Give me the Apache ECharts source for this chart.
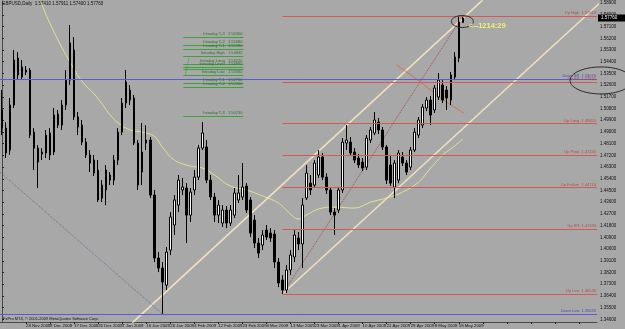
<!DOCTYPE html>
<html><head><meta charset="utf-8">
<script src="https://cdn.jsdelivr.net/npm/echarts@6/dist/echarts.min.js"></script>
<style>html,body{margin:0;padding:0;background:#a8a8a8}#c{width:625px;height:329px}</style>
</head><body><div id="c"></div>
<script>
const dates = ['19 Nov 2008','20 Nov 2008','21 Nov 2008','24 Nov 2008','25 Nov 2008','26 Nov 2008',
'28 Nov 2008','1 Dec 2008','2 Dec 2008','3 Dec 2008','4 Dec 2008','5 Dec 2008',
'9 Dec 2008','10 Dec 2008','11 Dec 2008','12 Dec 2008','15 Dec 2008','16 Dec 2008',
'17 Dec 2008','18 Dec 2008','19 Dec 2008','22 Dec 2008','23 Dec 2008','24 Dec 2008',
'26 Dec 2008','29 Dec 2008','30 Dec 2008','31 Dec 2008','2 Jan 2009','5 Jan 2009',
'7 Jan 2009','8 Jan 2009','9 Jan 2009','12 Jan 2009','13 Jan 2009','14 Jan 2009',
'16 Jan 2009','19 Jan 2009','20 Jan 2009','21 Jan 2009','22 Jan 2009','23 Jan 2009',
'26 Jan 2009','27 Jan 2009','28 Jan 2009','29 Jan 2009','30 Jan 2009','2 Feb 2009',
'4 Feb 2009','5 Feb 2009','6 Feb 2009','9 Feb 2009','10 Feb 2009','11 Feb 2009',
'12 Feb 2009','13 Feb 2009','16 Feb 2009','17 Feb 2009','18 Feb 2009','19 Feb 2009',
'23 Feb 2009','24 Feb 2009','25 Feb 2009','26 Feb 2009','27 Feb 2009','2 Mar 2009',
'4 Mar 2009','5 Mar 2009','6 Mar 2009','9 Mar 2009','10 Mar 2009','11 Mar 2009',
'13 Mar 2009','16 Mar 2009','17 Mar 2009','18 Mar 2009','19 Mar 2009','20 Mar 2009',
'23 Mar 2009','24 Mar 2009','25 Mar 2009','26 Mar 2009','27 Mar 2009','30 Mar 2009',
'1 Apr 2009','2 Apr 2009','3 Apr 2009','6 Apr 2009','7 Apr 2009','8 Apr 2009',
'10 Apr 2009','13 Apr 2009','14 Apr 2009','15 Apr 2009','16 Apr 2009','17 Apr 2009',
'21 Apr 2009','22 Apr 2009','23 Apr 2009','24 Apr 2009','27 Apr 2009','28 Apr 2009',
'29 Apr 2009','30 Apr 2009','1 May 2009','4 May 2009','5 May 2009','6 May 2009',
'8 May 2009','11 May 2009','12 May 2009','13 May 2009','14 May 2009','15 May 2009',
'18 May 2009','19 May 2009'];

const opens = [1.5069,1.4930,1.4761,1.5107,1.5468,1.5322,1.5376,1.5376,1.4899,1.4776,
1.4746,1.4738,1.4892,1.4746,1.5038,1.4953,1.5107,1.5299,1.5530,1.5015,
1.4953,1.4822,1.4723,1.4684,1.4607,1.4392,1.4454,1.4569,1.4530,1.4684,
1.4899,1.5122,1.5222,1.5161,1.4815,1.4592,1.4838,1.4838,1.4415,1.3931,
1.3854,1.3723,1.3992,1.4185,1.4338,1.4454,1.4469,1.4261,1.4454,1.4553,
1.4776,1.4784,1.4530,1.4400,1.4261,1.4200,1.4300,1.4200,1.4261,1.4377,
1.4400,1.4484,1.4377,1.4223,1.4046,1.4031,1.4146,1.4123,1.4115,1.3900,
1.3762,1.3685,1.3839,1.3939,1.4085,1.4039,1.4392,1.4507,1.4492,1.4569,
1.4707,1.4553,1.4454,1.4284,1.4300,1.4454,1.4815,1.4822,1.4746,1.4700,
1.4669,1.4630,1.4838,1.4892,1.4976,1.4915,1.4784,1.4646,1.4477,1.4530,
1.4707,1.4661,1.4630,1.4761,1.4876,1.4953,1.5084,1.5145,1.5069,1.5168,
1.5261,1.5222,1.5145,1.5322,1.5468,1.5741];
const closes = [1.4930,1.4738,1.5107,1.5453,1.5338,1.5399,1.5361,1.4876,1.4776,1.4669,
1.4730,1.4876,1.4723,1.5030,1.4953,1.5107,1.5299,1.5584,1.5015,1.4938,
1.4822,1.4723,1.4661,1.4584,1.4377,1.4492,1.4607,1.4530,1.4684,1.4899,
1.5122,1.5284,1.5145,1.4815,1.4492,1.4746,1.4815,1.4415,1.3931,1.3854,
1.3746,1.3977,1.4246,1.4377,1.4530,1.4477,1.4261,1.4438,1.4553,1.4776,
1.4892,1.4530,1.4400,1.4261,1.4338,1.4300,1.4200,1.4300,1.4431,1.4431,
1.4477,1.4300,1.4123,1.4046,1.3969,1.4108,1.4092,1.4085,1.3900,1.3739,
1.3685,1.3839,1.3954,1.4108,1.4039,1.4338,1.4584,1.4454,1.4661,1.4707,
1.4553,1.4454,1.4284,1.4261,1.4454,1.4822,1.4838,1.4738,1.4684,1.4646,
1.4623,1.4853,1.4915,1.4992,1.4915,1.4784,1.4530,1.4507,1.4661,1.4738,
1.4661,1.4592,1.4761,1.4899,1.4992,1.5092,1.5145,1.5030,1.5238,1.5299,
1.5145,1.5161,1.5338,1.5476,1.5745,1.5776];
const lows = [1.4876,1.4700,1.4723,1.5084,1.5299,1.5299,1.5338,1.4853,1.4607,1.4469,
1.4684,1.4700,1.4684,1.4723,1.4930,1.4915,1.5069,1.5261,1.4992,1.4876,
1.4799,1.4700,1.4592,1.4561,1.4361,1.4361,1.4338,1.4492,1.4492,1.4646,
1.4876,1.5084,1.5107,1.4799,1.4454,1.4492,1.4761,1.4392,1.3900,1.3823,
1.3502,1.3685,1.3954,1.4108,1.4284,1.4415,1.4046,1.4208,1.4415,1.4530,
1.4761,1.4507,1.4377,1.4208,1.4200,1.4169,1.4161,1.4177,1.4238,1.4354,
1.4377,1.4277,1.4092,1.4008,1.3931,1.3992,1.4069,1.4054,1.3854,1.3708,
1.3655,1.3662,1.3800,1.3900,1.3992,1.3854,1.4377,1.4415,1.4469,1.4546,
1.4530,1.4423,1.4261,1.4108,1.4277,1.4431,1.4761,1.4715,1.4661,1.4623,
1.4600,1.4607,1.4815,1.4876,1.4884,1.4761,1.4500,1.4484,1.4392,1.4507,
1.4638,1.4569,1.4607,1.4746,1.4853,1.4930,1.5061,1.4953,1.5046,1.5145,
1.5122,1.5069,1.5107,1.5299,1.5437,1.5740];
const highs = [1.5222,1.4976,1.5161,1.5530,1.5514,1.5453,1.5407,1.5391,1.4930,1.4799,
1.4776,1.4915,1.4930,1.5084,1.5069,1.5145,1.5376,1.5722,1.5630,1.5053,
1.4992,1.4853,1.4761,1.4723,1.4684,1.4530,1.4646,1.4592,1.4723,1.4930,
1.5161,1.5376,1.5261,1.5184,1.4838,1.4969,1.4953,1.4861,1.4454,1.3977,
1.3900,1.4016,1.4284,1.4415,1.4569,1.4546,1.4507,1.4469,1.4607,1.4799,
1.4976,1.4838,1.4569,1.4431,1.4377,1.4338,1.4331,1.4338,1.4469,1.4569,
1.4661,1.4507,1.4400,1.4261,1.4085,1.4146,1.4185,1.4161,1.4146,1.3931,
1.3800,1.3877,1.3992,1.4146,1.4131,1.4392,1.4646,1.4569,1.4684,1.4761,
1.4738,1.4584,1.4477,1.4315,1.4477,1.4853,1.4953,1.4861,1.4776,1.4730,
1.4700,1.4876,1.4938,1.5053,1.5007,1.4938,1.4799,1.4723,1.4684,1.4761,
1.4746,1.4684,1.4784,1.4930,1.5015,1.5115,1.5168,1.5176,1.5261,1.5353,
1.5299,1.5253,1.5361,1.5514,1.5783,1.5791];

// moving average (bar index, price)
const maIndex = [9,10,11,13,15,17,19,21,23,25,27,29,32,35,38,40,43,47,50,53,57,61,65,69,72,74,76,79,83,88,92,96,100,104,107,110,112,115];
const maValues = [1.5937,1.5876,1.5799,1.5668,1.5545,1.5437,1.5330,1.5253,1.5192,1.5115,1.5030,1.4969,1.4915,1.4899,1.4868,1.4784,1.4684,1.4638,1.4623,1.4569,1.4484,1.4454,1.4408,1.4354,1.4269,1.4231,1.4261,1.4308,1.4323,1.4315,1.4361,1.4392,1.4438,1.4515,1.4623,1.4723,1.4769,1.4845];

const yTicks = [1.346,1.355,1.364,1.373,1.382,1.391,1.400,1.409,1.418,1.427,1.436,1.445,1.454,1.463,1.472,1.481,1.490,1.499,1.508,1.517,1.526,1.535,1.544,1.553,1.562,1.571,1.580,1.589];

const levelNames = ['Up High','Down SR','Up SR','Up Long','Up Pivot','Up Failure','Up SR','Up Low','Down Low'];
const levelValues = [1.57913,1.53070,1.52840,1.49653,1.47240,1.44716,1.41534,1.36546,1.35020];
const levelFrom = [70,-0.5,70,70,70,70,70,70,-0.5];
const levelSide = ['up','down','up','up','up','up','up','up','down'];

const intraNames = ['Intraday T-3','Intraday T-2','Intraday T-1','Intraday High','Intraday Long','Intraday Level','','Intraday Low','Intraday T-1','Intraday T-2','Intraday T-3'];
const intraValues = [1.56300,1.55680,1.55380,1.54840,1.54220,1.53990,1.53840,1.53380,1.52760,1.52450,1.50230];
const intraSpan = [45.25,60.25];
const intraLink = [[46.75,1.5484],[45.75,1.5338]];

const channelUpper = [[32.5,1.3432],[120,1.5915]];
const channelLower = [[70,1.36546],[150,1.5914]];
const dottedTrend = [[70,1.36546],[115,1.57913]];
const grayTrend = [[-0.5,1.4591],[40,1.3502]];
const orangeArc = [[98.5,1.5415],[101,1.5360],[104.5,1.5283],[109.5,1.5160],[115.25,1.5045]];

const lastBar = {open:1.57410, high:1.57911, low:1.57400, close:1.57760};
const timerText = '<--1214:29';
const titleText = 'GBPUSD,Daily  1.57410 1.57911 1.57400 1.57760';
const creditText = 'FxPro MT4, \u00a9 2001-2009 MetaQuotes Software Corp.';

const TOTAL = 149;
const FONT = 'Liberation Sans, Arial, sans-serif';
const categories = dates.concat(Array.from({length: TOTAL - dates.length}, (_, k) => '_' + k));
const candleData = opens.map((o, i) => [o, closes[i], lows[i], highs[i]]);

const chart = echarts.init(document.getElementById('c'), null, {renderer: 'canvas'});

const upColor = '#d45a56', downColor = '#5a5ad4';
const levelLines = levelNames.map((n, k) => [
  {coord: [levelFrom[k], levelValues[k]], name: n + '  ' + levelValues[k].toFixed(5),
   lineStyle: {color: levelSide[k] === 'up' ? upColor : downColor, width: 1, type: 'solid', opacity: 1},
   label: {color: levelSide[k] === 'up' ? '#b84a4a' : '#4a4ab0'}},
  {coord: [TOTAL - 0.5, levelValues[k]]}
]);
const intraLines = intraNames.map((n, k) => [
  {coord: [intraSpan[0], intraValues[k]], name: n ? (n + '   ' + intraValues[k].toFixed(5)) : ''},
  {coord: [intraSpan[1], intraValues[k]]}
]);

function overlay(data, color, width, type, smooth) {
  return {type: 'line', xAxisIndex: 1, yAxisIndex: 0, data: data, symbol: 'none', silent: true,
    smooth: smooth || false, clip: true, lineStyle: {color: color, width: width, type: type}, z: 3};
}

const option = {
  backgroundColor: '#a8a8a8',
  animation: false,
  grid: {left: 0, right: 28, top: 1, bottom: 7, containLabel: false, outerBoundsMode: 'none'},
  xAxis: [
    {type: 'category', data: categories, boundaryGap: true,
     axisLine: {show: true, lineStyle: {color: '#4a4a4a', width: 1}},
     axisTick: {show: true, interval: 5, alignWithLabel: true, length: 2, lineStyle: {color: '#222'}},
     axisLabel: {interval: 5, fontSize: 4.3, color: '#111', align: 'left', margin: 1.5, fontFamily: FONT,
       formatter: (v, i) => (i < dates.length ? v : '')},
     splitLine: {show: false}},
    {type: 'value', min: -0.5, max: TOTAL - 0.5, show: false}
  ],
  yAxis: [{type: 'value', position: 'right', min: 1.34394, max: 1.59066,
    axisLine: {show: true, lineStyle: {color: '#4a4a4a', width: 1}},
    axisTick: {show: true, length: 2, customValues: yTicks, lineStyle: {color: '#222'}},
    axisLabel: {customValues: yTicks, fontSize: 4.5, color: '#111', margin: 3, fontFamily: FONT,
      formatter: v => v.toFixed(5)},
    splitLine: {show: false}}],
  series: [
    {type: 'candlestick', xAxisIndex: 0, yAxisIndex: 0, data: candleData, barWidth: 2, z: 4,
     itemStyle: {color: '#ffffff', color0: '#000000', borderColor: '#000000', borderColor0: '#000000', borderWidth: 1}},
    overlay(maIndex.map((x, k) => [x, maValues[k]]), '#e2e28a', 1, 'solid', 0.4),
    overlay(channelUpper, '#f2e0ba', 1.6, 'solid'),
    overlay(channelLower, '#f2e0ba', 1.6, 'solid'),
    overlay(dottedTrend, '#a04a4a', 1, 'dotted'),
    overlay(grayTrend, '#6e6e8c', 1, 'dotted'),
    overlay(orangeArc, '#d8704c', 1, 'solid', 0.3),
    overlay(intraLink, '#3c9c3c', 1, 'dotted'),
    {type: 'line', xAxisIndex: 1, yAxisIndex: 0, data: [], silent: true, z: 5,
     markLine: {silent: true, animation: false, symbol: ['none', 'none'],
       lineStyle: {width: 1, type: 'solid'},
       label: {show: true, position: 'insideEndTop', formatter: '{b}', fontSize: 4, distance: 1, fontFamily: FONT},
       data: levelLines}},
    {type: 'line', xAxisIndex: 1, yAxisIndex: 0, data: [], silent: true, z: 5,
     markLine: {silent: true, animation: false, symbol: ['none', 'none'],
       lineStyle: {width: 1, type: 'solid', color: '#40a040'},
       label: {show: true, position: 'insideEndTop', formatter: '{b}', fontSize: 4, distance: 1,
         color: '#257525', fontFamily: FONT},
       data: intraLines}}
  ]
};
chart.setOption(option);

function px(x, y) { return chart.convertToPixel({seriesIndex: 1}, [x, y]); }
const topMark = px(114.9, 1.5749);
const sideMark = px(149.5, 1.5296);
const timerPos = px(116.5, 1.5714);
const pricePos = px(TOTAL - 0.5, lastBar.close);

chart.setOption({graphic: [
  {type: 'text', left: 2, top: 1, z: 10, style: {text: titleText, font: '4.5px ' + FONT, fill: '#111'}},
  {type: 'text', left: 3, top: 317, z: 10, style: {text: creditText, font: '4px ' + FONT, fill: '#111'}},
  {type: 'ellipse', z: 10, shape: {cx: topMark[0], cy: topMark[1], rx: 11, ry: 6},
   style: {fill: null, stroke: '#2a2a2a', lineWidth: 1}},
  {type: 'ellipse', z: 10, shape: {cx: sideMark[0], cy: sideMark[1], rx: 31, ry: 13.5},
   style: {fill: null, stroke: '#2a2a2a', lineWidth: 1}},
  {type: 'text', x: timerPos[0], y: timerPos[1], z: 10,
   style: {text: timerText, font: 'bold 7.5px ' + FONT, fill: '#f4f070', verticalAlign: 'middle'}},
  {type: 'rect', z: 10, shape: {x: pricePos[0] + 1, y: pricePos[1] - 3.5, width: 27, height: 7},
   style: {fill: '#000'}},
  {type: 'text', x: pricePos[0] + 4, y: pricePos[1], z: 11,
   style: {text: lastBar.close.toFixed(5), font: '4.5px ' + FONT, fill: '#fff', verticalAlign: 'middle'}}
]});
</script>
</body></html>
